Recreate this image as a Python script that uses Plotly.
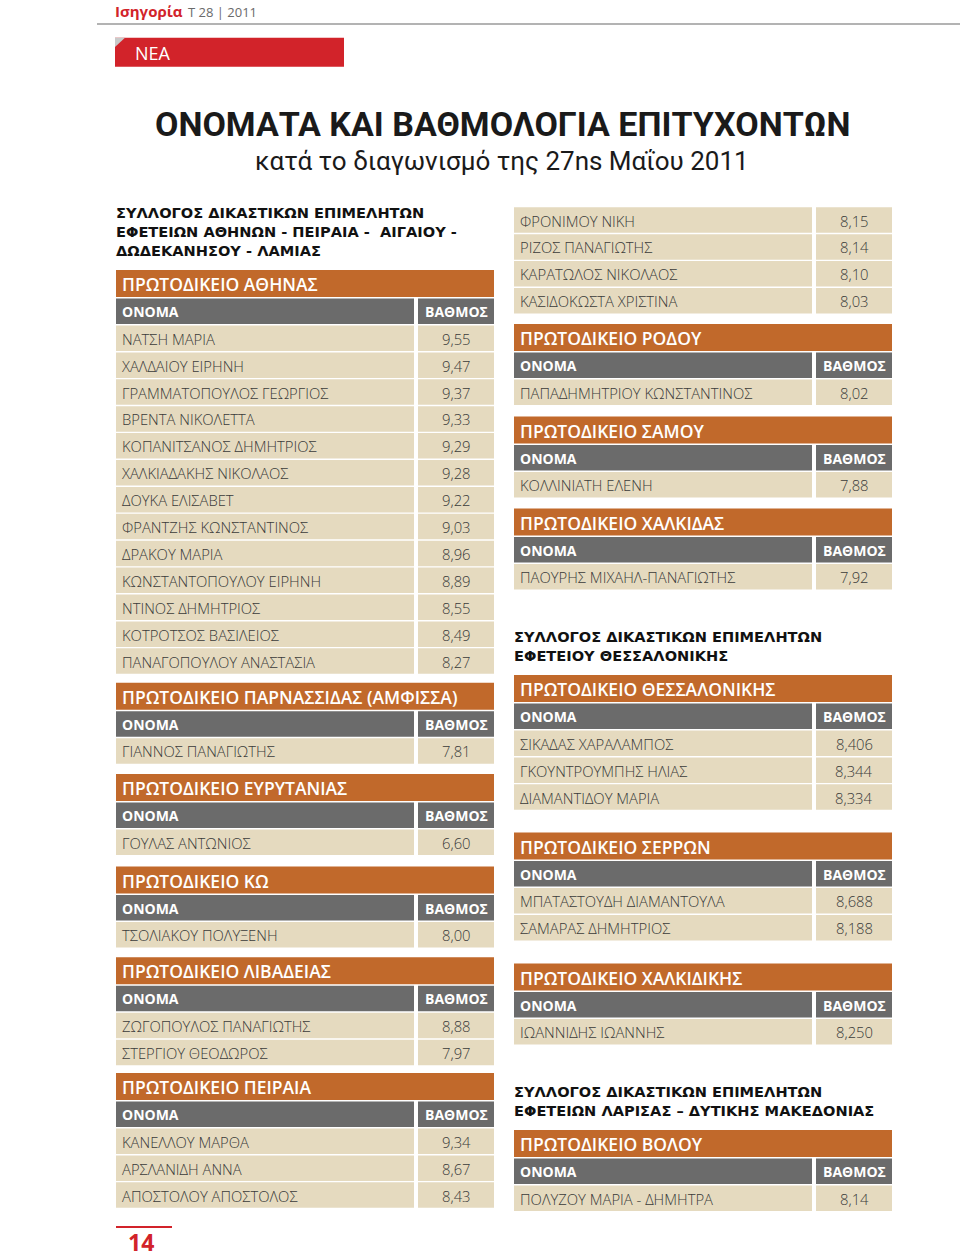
import plotly.graph_objects as go

# ---------------- DATA ----------------
page_label = "Ισηγορία"
issue_label = "Τ 28 | 2011"
section_tag = "ΝΕΑ"
title = "ΟΝΟΜΑΤΑ ΚΑΙ ΒΑΘΜΟΛΟΓΙΑ ΕΠΙΤΥΧΟΝΤΩΝ"
subtitle = "κατά το διαγωνισμό της 27ns Μαΐου 2011"
page_number = "14"
col_name_label = "ΟΝΟΜΑ"
col_score_label = "ΒΑΘΜΟΣ"

union_athens = ["ΣΥΛΛΟΓΟΣ ΔΙΚΑΣΤΙΚΩΝ ΕΠΙΜΕΛΗΤΩΝ",
                "ΕΦΕΤΕΙΩΝ ΑΘΗΝΩΝ - ΠΕΙΡΑΙΑ -  ΑΙΓΑΙΟΥ -",
                "ΔΩΔΕΚΑΝΗΣΟΥ - ΛΑΜΙΑΣ"]
union_thess = ["ΣΥΛΛΟΓΟΣ ΔΙΚΑΣΤΙΚΩΝ ΕΠΙΜΕΛΗΤΩΝ",
               "ΕΦΕΤΕΙΟΥ ΘΕΣΣΑΛΟΝΙΚΗΣ"]
union_larisa = ["ΣΥΛΛΟΓΟΣ ΔΙΚΑΣΤΙΚΩΝ ΕΠΙΜΕΛΗΤΩΝ",
                "ΕΦΕΤΕΙΩΝ ΛΑΡΙΣΑΣ – ΔΥΤΙΚΗΣ ΜΑΚΕΔΟΝΙΑΣ"]

athens_court = "ΠΡΩΤΟΔΙΚΕΙΟ ΑΘΗΝΑΣ"
athens_names = ["ΝΑΤΣΗ ΜΑΡΙΑ", "ΧΑΛΔΑΙΟΥ ΕΙΡΗΝΗ", "ΓΡΑΜΜΑΤΟΠΟΥΛΟΣ ΓΕΩΡΓΙΟΣ",
                "ΒΡΕΝΤΑ ΝΙΚΟΛΕΤΤΑ", "ΚΟΠΑΝΙΤΣΑΝΟΣ ΔΗΜΗΤΡΙΟΣ", "ΧΑΛΚΙΑΔΑΚΗΣ ΝΙΚΟΛΑΟΣ",
                "ΔΟΥΚΑ ΕΛΙΣΑΒΕΤ", "ΦΡΑΝΤΖΗΣ ΚΩΝΣΤΑΝΤΙΝΟΣ", "ΔΡΑΚΟΥ ΜΑΡΙΑ",
                "ΚΩΝΣΤΑΝΤΟΠΟΥΛΟΥ ΕΙΡΗΝΗ", "ΝΤΙΝΟΣ ΔΗΜΗΤΡΙΟΣ", "ΚΟΤΡΟΤΣΟΣ ΒΑΣΙΛΕΙΟΣ",
                "ΠΑΝΑΓΟΠΟΥΛΟΥ ΑΝΑΣΤΑΣΙΑ"]
athens_scores = ["9,55", "9,47", "9,37", "9,33", "9,29", "9,28", "9,22", "9,03",
                 "8,96", "8,89", "8,55", "8,49", "8,27"]
athens_cont_names = ["ΦΡΟΝΙΜΟΥ ΝΙΚΗ", "ΡΙΖΟΣ ΠΑΝΑΓΙΩΤΗΣ", "ΚΑΡΑΤΩΛΟΣ ΝΙΚΟΛΑΟΣ",
                     "ΚΑΣΙΔΟΚΩΣΤΑ ΧΡΙΣΤΙΝΑ"]
athens_cont_scores = ["8,15", "8,14", "8,10", "8,03"]

amfissa_court = "ΠΡΩΤΟΔΙΚΕΙΟ ΠΑΡΝΑΣΣΙΔΑΣ (ΑΜΦΙΣΣΑ)"
amfissa_names = ["ΓΙΑΝΝΟΣ ΠΑΝΑΓΙΩΤΗΣ"]
amfissa_scores = ["7,81"]

evrytania_court = "ΠΡΩΤΟΔΙΚΕΙΟ ΕΥΡΥΤΑΝΙΑΣ"
evrytania_names = ["ΓΟΥΛΑΣ ΑΝΤΩΝΙΟΣ"]
evrytania_scores = ["6,60"]

kos_court = "ΠΡΩΤΟΔΙΚΕΙΟ ΚΩ"
kos_names = ["ΤΣΟΛΙΑΚΟΥ ΠΟΛΥΞΕΝΗ"]
kos_scores = ["8,00"]

livadeia_court = "ΠΡΩΤΟΔΙΚΕΙΟ ΛΙΒΑΔΕΙΑΣ"
livadeia_names = ["ΖΩΓΟΠΟΥΛΟΣ ΠΑΝΑΓΙΩΤΗΣ", "ΣΤΕΡΓΙΟΥ ΘΕΟΔΩΡΟΣ"]
livadeia_scores = ["8,88", "7,97"]

piraeus_court = "ΠΡΩΤΟΔΙΚΕΙΟ ΠΕΙΡΑΙΑ"
piraeus_names = ["ΚΑΝΕΛΛΟΥ ΜΑΡΘΑ", "ΑΡΣΛΑΝΙΔΗ ΑΝΝΑ", "ΑΠΟΣΤΟΛΟΥ ΑΠΟΣΤΟΛΟΣ"]
piraeus_scores = ["9,34", "8,67", "8,43"]

rodos_court = "ΠΡΩΤΟΔΙΚΕΙΟ ΡΟΔΟΥ"
rodos_names = ["ΠΑΠΑΔΗΜΗΤΡΙΟΥ ΚΩΝΣΤΑΝΤΙΝΟΣ"]
rodos_scores = ["8,02"]

samos_court = "ΠΡΩΤΟΔΙΚΕΙΟ ΣΑΜΟΥ"
samos_names = ["ΚΟΛΛΙΝΙΑΤΗ ΕΛΕΝΗ"]
samos_scores = ["7,88"]

chalkida_court = "ΠΡΩΤΟΔΙΚΕΙΟ ΧΑΛΚΙΔΑΣ"
chalkida_names = ["ΠΑΟΥΡΗΣ ΜΙΧΑΗΛ-ΠΑΝΑΓΙΩΤΗΣ"]
chalkida_scores = ["7,92"]

thess_court = "ΠΡΩΤΟΔΙΚΕΙΟ ΘΕΣΣΑΛΟΝΙΚΗΣ"
thess_names = ["ΣΙΚΑΔΑΣ ΧΑΡΑΛΑΜΠΟΣ", "ΓΚΟΥΝΤΡΟΥΜΠΗΣ ΗΛΙΑΣ", "ΔΙΑΜΑΝΤΙΔΟΥ ΜΑΡΙΑ"]
thess_scores = ["8,406", "8,344", "8,334"]

serres_court = "ΠΡΩΤΟΔΙΚΕΙΟ ΣΕΡΡΩΝ"
serres_names = ["ΜΠΑΤΑΣΤΟΥΔΗ ΔΙΑΜΑΝΤΟΥΛΑ", "ΣΑΜΑΡΑΣ ΔΗΜΗΤΡΙΟΣ"]
serres_scores = ["8,688", "8,188"]

chalkidiki_court = "ΠΡΩΤΟΔΙΚΕΙΟ ΧΑΛΚΙΔΙΚΗΣ"
chalkidiki_names = ["ΙΩΑΝΝΙΔΗΣ ΙΩΑΝΝΗΣ"]
chalkidiki_scores = ["8,250"]

volos_court = "ΠΡΩΤΟΔΙΚΕΙΟ ΒΟΛΟΥ"
volos_names = ["ΠΟΛΥΖΟΥ ΜΑΡΙΑ - ΔΗΜΗΤΡΑ"]
volos_scores = ["8,14"]

# ---------------- LAYOUT (positions in page pixels) ----------------
W, H = 960, 1258
ORANGE = "#c1692b"
GREY = "#6b6b6b"
BEIGE = "#e5dabf"
RED = "#d2232a"
TXT = "#3a3a3a"
SANS = "Open Sans, Noto Sans, sans-serif"

COL_X = {"L": 116, "R": 514}
NAME_W = 298
SCORE_X0 = 302
COL_W = 378
ROW_PITCH = 26.9
ROW_H = 25.5

# (kind, payload, column, top y)
blocks = [
    ("heading", union_athens, "L", 212),
    ("court", (athens_court, athens_names, athens_scores), "L", 270),
    ("court", (amfissa_court, amfissa_names, amfissa_scores), "L", 682.7),
    ("court", (evrytania_court, evrytania_names, evrytania_scores), "L", 774),
    ("court", (kos_court, kos_names, kos_scores), "L", 866.5),
    ("court", (livadeia_court, livadeia_names, livadeia_scores), "L", 957.3),
    ("court", (piraeus_court, piraeus_names, piraeus_scores), "L", 1073),
    ("rows", (athens_cont_names, athens_cont_scores), "R", 207.3),
    ("court", (rodos_court, rodos_names, rodos_scores), "R", 324),
    ("court", (samos_court, samos_names, samos_scores), "R", 416.5),
    ("court", (chalkida_court, chalkida_names, chalkida_scores), "R", 508.5),
    ("heading", union_thess, "R", 636),
    ("court", (thess_court, thess_names, thess_scores), "R", 675),
    ("court", (serres_court, serres_names, serres_scores), "R", 832.5),
    ("court", (chalkidiki_court, chalkidiki_names, chalkidiki_scores), "R", 963.5),
    ("heading", union_larisa, "R", 1091.5),
    ("court", (volos_court, volos_names, volos_scores), "R", 1130),
]

shapes = []
annots = []

LIGHT = dict(family=SANS, size=14.8, color=TXT, weight=300)


def rect(x0, y0, x1, y1, color):
    shapes.append(dict(type="rect", xref="x", yref="y", x0=x0, x1=x1, y0=y0, y1=y1,
                       fillcolor=color, line=dict(width=0), layer="below"))


def text(x, y, s, font, xanchor="left"):
    annots.append(dict(x=x, y=y, xref="x", yref="y", text=s, showarrow=False,
                       xanchor=xanchor, yanchor="middle", font=font, borderpad=0))


def data_rows(x0, top, names, scores):
    for i, (n, s) in enumerate(zip(names, scores)):
        y0 = top + i * ROW_PITCH
        rect(x0, y0, x0 + NAME_W, y0 + ROW_H, BEIGE)
        rect(x0 + SCORE_X0, y0, x0 + COL_W, y0 + ROW_H, BEIGE)
        yc = y0 + ROW_H / 2 + 0.5
        text(x0 + 5, yc, n, LIGHT)
        text(x0 + (SCORE_X0 + COL_W) / 2, yc, s, LIGHT, "center")


for kind, payload, col, top in blocks:
    x0 = COL_X[col]
    if kind == "heading":
        for j, line in enumerate(payload):
            text(x0 - 1, top + j * 19.3, "<b>" + line + "</b>",
                 dict(family="DejaVu Sans, Open Sans, sans-serif", size=14.6, color="#111111"))
    elif kind == "rows":
        names, scores = payload
        data_rows(x0, top, names, scores)
    else:
        court, names, scores = payload
        rect(x0, top, x0 + COL_W, top + 27, ORANGE)
        text(x0 + 5, top + 14, court, dict(family=SANS, size=17.5, color="white", weight=600))
        gy = top + 28.5
        rect(x0, gy, x0 + NAME_W, gy + 25.5, GREY)
        rect(x0 + SCORE_X0, gy, x0 + COL_W, gy + 25.5, GREY)
        hf = dict(family=SANS, size=14, color="white", weight=700)
        text(x0 + 5, gy + 13, col_name_label, hf)
        text(x0 + (SCORE_X0 + COL_W) / 2, gy + 13, col_score_label, hf, "center")
        data_rows(x0, top + 55.5, names, scores)

# page header
shapes.append(dict(type="line", xref="x", yref="y", x0=97, x1=W, y0=24, y1=24,
                   line=dict(color="#9a9a9a", width=1.5)))
text(114, 11, "<b>" + page_label + "</b>", dict(family=SANS, size=15, color=RED))
text(187, 11.5, issue_label, dict(family=SANS, size=13, color="#6a6a6a"))
rect(115, 37.7, 344, 66.7, RED)
shapes.append(dict(type="path", xref="x", yref="y", path="M 115 37.7 L 125 37.7 L 115 47 Z",
                   fillcolor="#c9c9c9", line=dict(width=0)))
text(134, 52.5, section_tag, dict(family=SANS, size=18, color="white"))

# titles
text(503, 124, "<b>" + title + "</b>",
     dict(family="Roboto, Liberation Sans, sans-serif", size=34, color="#1a1a1a"), "center")
text(502, 161, subtitle,
     dict(family="Roboto, Liberation Sans, sans-serif", size=26, color="#1a1a1a"), "center")

# page number
shapes.append(dict(type="line", xref="x", yref="y", x0=116, x1=172, y0=1227, y1=1227,
                   line=dict(color=RED, width=2)))
text(127, 1241.5, "<b>" + page_number + "</b>", dict(family=SANS, size=23, color=RED))

fig = go.Figure()
fig.update_layout(
    width=W, height=H, margin=dict(l=0, r=0, t=0, b=0),
    paper_bgcolor="white", plot_bgcolor="white",
    xaxis=dict(range=[0, W], visible=False, fixedrange=True),
    yaxis=dict(range=[H, 0], visible=False, fixedrange=True),
    shapes=shapes, annotations=annots, showlegend=False,
)
fig.write_html("out.html", config={"displayModeBar": False},
               post_script="document.body.style.margin='0';document.body.style.overflow='hidden';")
